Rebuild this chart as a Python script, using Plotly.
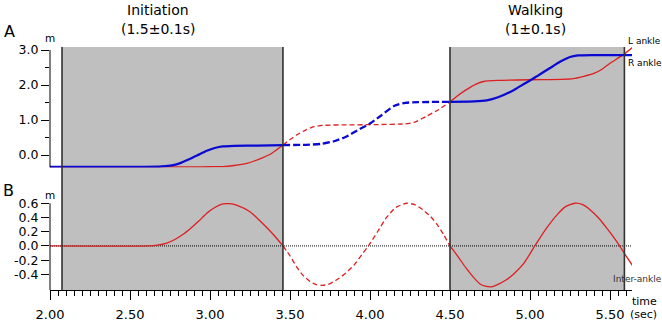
import plotly.graph_objects as go

# ---------------- data ----------------
# Panel A: ankle positions (m)
blue_init_t = [2.00, 2.50, 2.68, 2.72, 2.77, 2.81, 2.87, 2.93, 2.98, 3.03, 3.08, 3.15, 3.30, 3.456]
blue_init_v = [-0.34, -0.34, -0.335, -0.32, -0.29, -0.24, -0.12, 0.01, 0.12, 0.20, 0.245, 0.26, 0.27, 0.285]
blue_mid_t = [3.456, 3.60, 3.70, 3.78, 3.85, 3.92, 4.00, 4.07, 4.15, 4.22, 4.30, 4.50]
blue_mid_v = [0.285, 0.29, 0.32, 0.40, 0.52, 0.70, 0.90, 1.13, 1.40, 1.49, 1.51, 1.52]
blue_walk_t = [4.50, 4.65, 4.73, 4.80, 4.90, 4.97, 5.04, 5.12, 5.19, 5.25, 5.30, 5.40, 5.64]
blue_walk_v = [1.52, 1.53, 1.56, 1.65, 1.86, 2.05, 2.24, 2.47, 2.67, 2.80, 2.845, 2.855, 2.855]

red_init_t = [2.00, 2.90, 3.00, 3.08, 3.15, 3.23, 3.30, 3.38, 3.456]
red_init_v = [-0.34, -0.34, -0.335, -0.33, -0.30, -0.24, -0.13, 0.03, 0.285]
red_mid_t = [3.456, 3.50, 3.54, 3.60, 3.65, 3.72, 3.85, 4.05, 4.22, 4.28, 4.35, 4.43, 4.50]
red_mid_v = [0.285, 0.44, 0.57, 0.72, 0.81, 0.85, 0.86, 0.87, 0.89, 0.94, 1.10, 1.30, 1.52]
red_walk_t = [4.50, 4.55, 4.60, 4.66, 4.71, 4.80, 5.00, 5.20, 5.27, 5.33, 5.40, 5.45, 5.50, 5.58, 5.645]
red_walk_v = [1.52, 1.70, 1.86, 2.02, 2.10, 2.13, 2.15, 2.16, 2.18, 2.24, 2.33, 2.45, 2.62, 2.86, 3.09]

# Panel B: inter-ankle distance (m)
ia_init_t = [2.00, 2.62, 2.67, 2.73, 2.78, 2.83, 2.88, 2.93, 2.98, 3.03, 3.08, 3.12, 3.17, 3.25, 3.30, 3.35, 3.40, 3.456]
ia_init_v = [0.0, 0.0, 0.01, 0.04, 0.09, 0.16, 0.25, 0.35, 0.46, 0.54, 0.59, 0.595, 0.57, 0.48, 0.38, 0.27, 0.15, 0.0]
ia_mid_t = [3.456, 3.50, 3.54, 3.58, 3.625, 3.66, 3.70, 3.74, 3.79, 3.85, 3.90, 3.95, 3.99, 4.05, 4.10, 4.16, 4.23, 4.28, 4.33, 4.38, 4.42, 4.46, 4.50]
ia_mid_v = [0.0, -0.14, -0.29, -0.41, -0.50, -0.54, -0.555, -0.54, -0.48, -0.38, -0.27, -0.12, 0.0, 0.21, 0.39, 0.54, 0.60, 0.58, 0.51, 0.41, 0.30, 0.16, 0.0]
ia_walk_t = [4.50, 4.55, 4.60, 4.65, 4.69, 4.72, 4.76, 4.80, 4.85, 4.90, 4.96, 5.03, 5.10, 5.17, 5.22, 5.28, 5.33, 5.375, 5.43, 5.48, 5.52, 5.56, 5.60, 5.645]
ia_walk_v = [0.0, -0.15, -0.31, -0.45, -0.54, -0.565, -0.575, -0.54, -0.48, -0.39, -0.25, 0.0, 0.24, 0.44, 0.55, 0.60, 0.58, 0.51, 0.39, 0.25, 0.13, 0.0, -0.14, -0.29]

phase_starts = [2.075, 4.50]
phase_ends = [3.456, 5.59]
phase_names = ["Initiation", "Walking"]
phase_durations = ["(1.5±0.1s)", "(1±0.1s)"]

x_ticks = [2.0, 2.5, 3.0, 3.5, 4.0, 4.5, 5.0, 5.5]
a_ticks = [0.0, 1.0, 2.0, 3.0]
b_ticks = [-0.4, -0.2, 0.0, 0.2, 0.4, 0.6]

# ---------------- layout geometry ----------------
W, H = 662, 326
ML, MR, MT, MB = 50, 30, 40, 36
PW, PH = W - ML - MR, H - MT - MB
X_RANGE = [2.0, 5.6375]
A_RANGE = [-0.36, 3.12]
B_RANGE = [-0.62, 0.65]

def xp(px):
    return (px - ML) / PW

def yp(py):
    return (H - MB - py) / PH

FONT = "DejaVu Sans"
BLUE = "#0a0ad2"
RED = "#dd1f1f"

fig = go.Figure()

def line(t, v, yaxis, color, width, dash="solid", xaxis="x2"):
    fig.add_trace(go.Scatter(
        x=t, y=v, mode="lines", xaxis=xaxis, yaxis=yaxis,
        line=dict(color=color, width=width, dash=dash, shape="spline", smoothing=0.6),
        hoverinfo="skip", showlegend=False))

# Panel A
line(red_init_t, red_init_v, "y", RED, 1.3)
line(red_mid_t, red_mid_v, "y", RED, 1.3, "5px,3px")
line(red_walk_t, red_walk_v, "y", RED, 1.3)
line(blue_init_t, blue_init_v, "y", BLUE, 2.3)
line(blue_mid_t, blue_mid_v, "y", BLUE, 2.3, "7px,3px")
line(blue_walk_t, blue_walk_v, "y", BLUE, 2.3)

# Panel B zero line
fig.add_trace(go.Scatter(x=X_RANGE, y=[0, 0], mode="lines", xaxis="x", yaxis="y2",
                         line=dict(color="black", width=1, dash="1px,1px"),
                         hoverinfo="skip", showlegend=False))
line(ia_init_t, ia_init_v, "y2", RED, 1.3, xaxis="x")
line(ia_mid_t, ia_mid_v, "y2", RED, 1.3, "5px,3px", xaxis="x")
line(ia_walk_t, ia_walk_v, "y2", RED, 1.3, xaxis="x")

shapes = []
top_paper = yp(47)
for s, e in zip(phase_starts, phase_ends):
    shapes.append(dict(type="rect", xref="x", yref="paper", x0=s, x1=e, y0=0, y1=top_paper,
                       fillcolor="#bfbfbf", line=dict(width=0), layer="below"))
    for xv in (s, e):
        shapes.append(dict(type="line", xref="x", yref="paper", x0=xv, x1=xv, y0=0, y1=top_paper,
                           line=dict(color="#333333", width=1.6), layer="above"))
# y axis lines
shapes.append(dict(type="line", xref="paper", yref="y", x0=0, x1=0, y0=A_RANGE[0], y1=3.0,
                   line=dict(color="black", width=1)))
shapes.append(dict(type="line", xref="paper", yref="y2", x0=0, x1=0, y0=B_RANGE[0], y1=0.6,
                   line=dict(color="black", width=1)))

annotations = []
def txt(text, x, y, size, xanchor="center", color="black"):
    annotations.append(dict(text=text, xref="paper", yref="paper", x=xp(x), y=yp(y),
                            xanchor=xanchor, yanchor="middle", showarrow=False,
                            font=dict(family=FONT, size=size, color=color)))

title_cx = [158, 535]
for name, dur, cx in zip(phase_names, phase_durations, title_cx):
    txt(name, cx, 10, 14)
    txt(dur, cx, 29, 14)
txt("A", 9, 32, 16)
txt("B", 8, 190.5, 16)
txt("m", 50, 38, 10.5)
txt("m", 50, 194.5, 10.5)
txt("L ankle", 626, 40.5, 9, "left")
txt("R ankle", 626, 63, 9, "left")
txt("Inter-ankle", 610.5, 279, 9, "left", "#333333")
txt("time", 644.5, 301, 11)
txt("(sec)", 643.5, 314, 11)

fig.update_layout(
    width=W, height=H, margin=dict(l=ML, r=MR, t=MT, b=MB, autoexpand=False),
    paper_bgcolor="white", plot_bgcolor="rgba(0,0,0,0)",
    font=dict(family=FONT, size=12, color="black"),
    shapes=shapes, annotations=annotations, showlegend=False,
    xaxis=dict(range=X_RANGE, anchor="y2", showgrid=False, zeroline=False, automargin=False,
               showline=True, linecolor="black", linewidth=1,
               tickvals=x_ticks, ticktext=[f"{v:.2f}" for v in x_ticks],
               ticks="outside", ticklen=9, tickcolor="black", tickwidth=1,
               ticklabelstandoff=3,
               tickfont=dict(family=FONT, size=13),
               minor=dict(dtick=0.05, tick0=2.0, ticks="outside", ticklen=5, tickcolor="black", showgrid=False)),
    xaxis2=dict(range=X_RANGE, anchor="y", matches="x", showgrid=False, zeroline=False, automargin=False,
                showline=False, showticklabels=False, ticks=""),
    yaxis=dict(domain=[yp(A_RANGE[0] * -35 + 155), yp(155 - A_RANGE[1] * 35)], range=A_RANGE,
               anchor="x2", showgrid=False, zeroline=False, showline=False, automargin=False,
               tickvals=a_ticks, ticktext=[f"{v:.1f}" for v in a_ticks],
               ticks="outside", ticklen=8, tickcolor="black",
               tickfont=dict(family=FONT, size=12.5),
               minor=dict(tickvals=[0.5, 1.5, 2.5], ticks="outside", ticklen=4, tickcolor="black", showgrid=False)),
    yaxis2=dict(domain=[0, yp(246 - B_RANGE[1] * 71.2)], range=B_RANGE, anchor="x",
                showgrid=False, zeroline=False, showline=False, automargin=False,
                tickvals=b_ticks, ticktext=[f"{v:.1f}" for v in b_ticks],
                ticks="outside", ticklen=8, tickcolor="black",
                tickfont=dict(family=FONT, size=12.5)),
)

fig.write_html("out.html", config={"displayModeBar": False},
               post_script="document.body.style.margin='0';document.body.style.overflow='hidden';")
